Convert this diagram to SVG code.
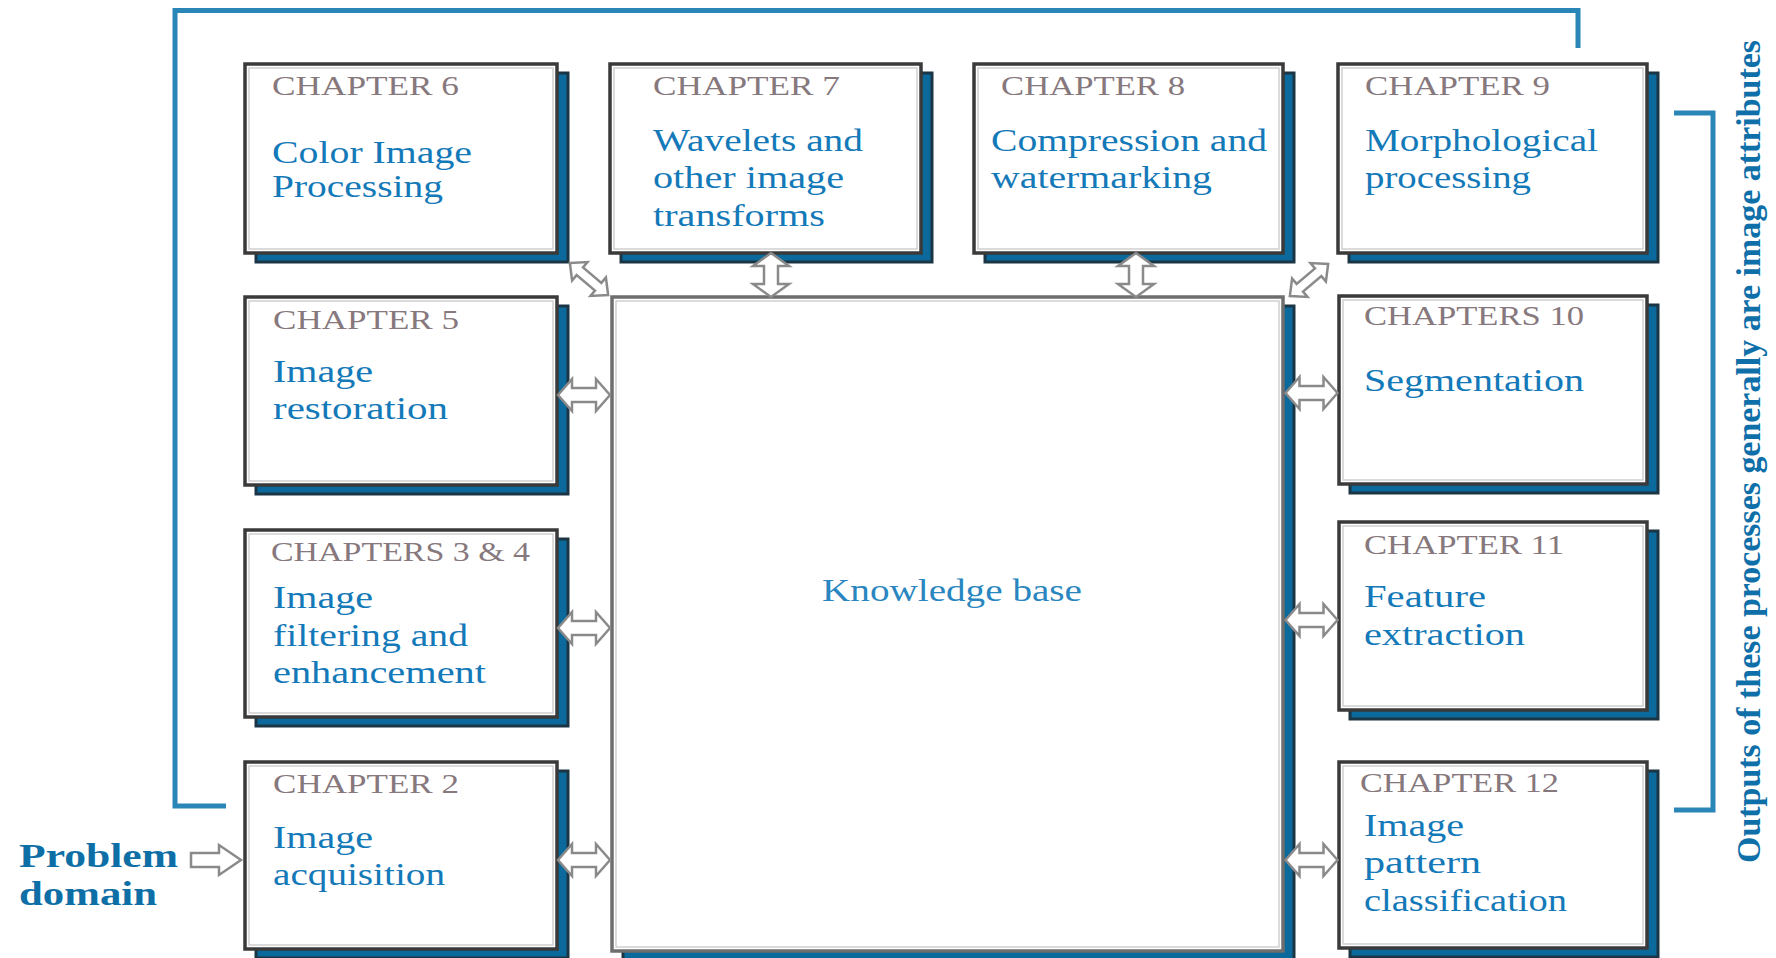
<svg xmlns="http://www.w3.org/2000/svg" width="1776" height="958" viewBox="0 0 1776 958">
<style>
.bg{fill:#ffffff}
.shadow{fill:#0b6a9b;stroke:#1b3545;stroke-width:3}
.box{fill:#ffffff;stroke:#3a3a3a;stroke-width:3.5}
.inner{fill:none;stroke:#cfcfcf;stroke-width:1.5}
.kb{fill:#ffffff;stroke:#6e6e6e;stroke-width:3.5}
.lbl{font-family:"Liberation Serif","Times New Roman",serif;font-size:27px;fill:#86787c}
.txt{font-family:"Liberation Serif","Times New Roman",serif;font-size:31px;fill:#1479b8}
.kbt{font-family:"Liberation Serif","Times New Roman",serif;font-size:31px;fill:#2a86c0}
.pd{font-family:"Liberation Serif","Times New Roman",serif;font-size:33px;font-weight:bold;fill:#0e6fa6}
.vt{font-family:"Liberation Serif","Times New Roman",serif;font-size:34px;font-weight:bold;fill:#0f6fa8}
.brk{fill:none;stroke:#2a86b6;stroke-width:5}
.arr{fill:#ffffff;stroke:#8a8a8a;stroke-width:2.5;stroke-linejoin:miter}
</style>
<defs>
<path id="dh" d="M-26,0 L-12,-16 L-12,-7 L12,-7 L12,-16 L26,0 L12,16 L12,7 L-12,7 L-12,16 Z"/>
<path id="dv" d="M0,-22 L18,-9 L7,-9 L7,9 L18,9 L0,22 L-18,9 L-7,9 L-7,-9 L-18,-9 Z"/>
<path id="dd" d="M-25,0 L-12,-12 L-12,-5 L12,-5 L12,-12 L25,0 L12,12 L12,5 L-12,5 L-12,12 Z"/>
</defs>
<rect class="bg" x="0" y="0" width="1776" height="958"/>

<g id="kb">
<rect class="shadow" x="623" y="306" width="671" height="654"/>
<rect class="kb" x="612" y="297" width="671" height="654"/>
<rect class="inner" x="616" y="301" width="663" height="646"/>
<text class="kbt" x="822" y="601" textLength="260" lengthAdjust="spacingAndGlyphs">Knowledge base</text>
</g>

<g id="ch6">
<rect class="shadow" x="256" y="73" width="312" height="189"/>
<rect class="box" x="245" y="64" width="312" height="189"/>
<rect class="inner" x="249" y="68" width="304" height="181"/>
<text class="lbl" x="272" y="95" textLength="187" lengthAdjust="spacingAndGlyphs">CHAPTER 6</text>
<text class="txt" x="272" y="163" textLength="200" lengthAdjust="spacingAndGlyphs">Color Image</text>
<text class="txt" x="272" y="197" textLength="171" lengthAdjust="spacingAndGlyphs">Processing</text>
</g>

<g id="ch7">
<rect class="shadow" x="621" y="73" width="311" height="189"/>
<rect class="box" x="610" y="64" width="311" height="189"/>
<rect class="inner" x="614" y="68" width="303" height="181"/>
<text class="lbl" x="653" y="95" textLength="187" lengthAdjust="spacingAndGlyphs">CHAPTER 7</text>
<text class="txt" x="653" y="151" textLength="210" lengthAdjust="spacingAndGlyphs">Wavelets and</text>
<text class="txt" x="653" y="188" textLength="191" lengthAdjust="spacingAndGlyphs">other image</text>
<text class="txt" x="653" y="226" textLength="172" lengthAdjust="spacingAndGlyphs">transforms</text>
</g>

<g id="ch8">
<rect class="shadow" x="985" y="73" width="309" height="189"/>
<rect class="box" x="974" y="64" width="309" height="189"/>
<rect class="inner" x="978" y="68" width="301" height="181"/>
<text class="lbl" x="1001" y="95" textLength="184" lengthAdjust="spacingAndGlyphs">CHAPTER 8</text>
<text class="txt" x="991" y="151" textLength="276" lengthAdjust="spacingAndGlyphs">Compression and</text>
<text class="txt" x="991" y="188" textLength="221" lengthAdjust="spacingAndGlyphs">watermarking</text>
</g>

<g id="ch9">
<rect class="shadow" x="1349" y="73" width="309" height="189"/>
<rect class="box" x="1338" y="64" width="309" height="189"/>
<rect class="inner" x="1342" y="68" width="301" height="181"/>
<text class="lbl" x="1365" y="95" textLength="185" lengthAdjust="spacingAndGlyphs">CHAPTER 9</text>
<text class="txt" x="1365" y="151" textLength="233" lengthAdjust="spacingAndGlyphs">Morphological</text>
<text class="txt" x="1365" y="188" textLength="166" lengthAdjust="spacingAndGlyphs">processing</text>
</g>

<g id="ch5">
<rect class="shadow" x="256" y="306" width="312" height="188"/>
<rect class="box" x="245" y="297" width="312" height="188"/>
<rect class="inner" x="249" y="301" width="304" height="180"/>
<text class="lbl" x="273" y="329" textLength="186" lengthAdjust="spacingAndGlyphs">CHAPTER 5</text>
<text class="txt" x="273" y="382" textLength="100" lengthAdjust="spacingAndGlyphs">Image</text>
<text class="txt" x="273" y="419" textLength="175" lengthAdjust="spacingAndGlyphs">restoration</text>
</g>

<g id="ch34">
<rect class="shadow" x="256" y="539" width="312" height="187"/>
<rect class="box" x="245" y="530" width="312" height="187"/>
<rect class="inner" x="249" y="534" width="304" height="179"/>
<text class="lbl" x="271" y="561" textLength="259" lengthAdjust="spacingAndGlyphs">CHAPTERS 3 &amp; 4</text>
<text class="txt" x="273" y="608" textLength="100" lengthAdjust="spacingAndGlyphs">Image</text>
<text class="txt" x="273" y="646" textLength="195" lengthAdjust="spacingAndGlyphs">filtering and</text>
<text class="txt" x="273" y="683" textLength="213" lengthAdjust="spacingAndGlyphs">enhancement</text>
</g>

<g id="ch2">
<rect class="shadow" x="256" y="771" width="312" height="187"/>
<rect class="box" x="245" y="762" width="312" height="187"/>
<rect class="inner" x="249" y="766" width="304" height="179"/>
<text class="lbl" x="273" y="793" textLength="186" lengthAdjust="spacingAndGlyphs">CHAPTER 2</text>
<text class="txt" x="273" y="848" textLength="100" lengthAdjust="spacingAndGlyphs">Image</text>
<text class="txt" x="273" y="885" textLength="172" lengthAdjust="spacingAndGlyphs">acquisition</text>
</g>

<g id="ch10">
<rect class="shadow" x="1350" y="305" width="308" height="188"/>
<rect class="box" x="1339" y="296" width="308" height="188"/>
<rect class="inner" x="1343" y="300" width="300" height="180"/>
<text class="lbl" x="1364" y="325" textLength="220" lengthAdjust="spacingAndGlyphs">CHAPTERS 10</text>
<text class="txt" x="1364" y="391" textLength="220" lengthAdjust="spacingAndGlyphs">Segmentation</text>
</g>

<g id="ch11">
<rect class="shadow" x="1350" y="531" width="308" height="188"/>
<rect class="box" x="1339" y="522" width="308" height="188"/>
<rect class="inner" x="1343" y="526" width="300" height="180"/>
<text class="lbl" x="1364" y="554" textLength="200" lengthAdjust="spacingAndGlyphs">CHAPTER 11</text>
<text class="txt" x="1364" y="607" textLength="122" lengthAdjust="spacingAndGlyphs">Feature</text>
<text class="txt" x="1364" y="645" textLength="161" lengthAdjust="spacingAndGlyphs">extraction</text>
</g>

<g id="ch12">
<rect class="shadow" x="1350" y="771" width="308" height="186"/>
<rect class="box" x="1339" y="762" width="308" height="186"/>
<rect class="inner" x="1343" y="766" width="300" height="178"/>
<text class="lbl" x="1360" y="792" textLength="199" lengthAdjust="spacingAndGlyphs">CHAPTER 12</text>
<text class="txt" x="1364" y="836" textLength="100" lengthAdjust="spacingAndGlyphs">Image</text>
<text class="txt" x="1364" y="873" textLength="117" lengthAdjust="spacingAndGlyphs">pattern</text>
<text class="txt" x="1364" y="911" textLength="203" lengthAdjust="spacingAndGlyphs">classification</text>
</g>

<g id="problem-domain">
<text class="pd" x="19" y="867" textLength="159" lengthAdjust="spacingAndGlyphs">Problem</text>
<text class="pd" x="19" y="905" textLength="138" lengthAdjust="spacingAndGlyphs">domain</text>
</g>

<g id="outputs-note">
<text class="vt" transform="translate(1760,863) rotate(-90)" x="0" y="0" textLength="823" lengthAdjust="spacingAndGlyphs">Outputs of these processes generally are image attributes</text>
</g>

<g id="connectors">
<polyline class="brk" points="226,806 175,806 175,10.5 1578,10.5 1578,48"/>
<polyline class="brk" points="1674,113 1713,113 1713,810 1674,810"/>
<path class="arr" d="M191,853 L219,853 L219,845 L241,860 L219,875 L219,867 L191,867 Z"/>
<use href="#dh" class="arr" transform="translate(584,395)"/>
<use href="#dh" class="arr" transform="translate(584,628)"/>
<use href="#dh" class="arr" transform="translate(584,860)"/>
<use href="#dh" class="arr" transform="translate(1311.5,393)"/>
<use href="#dh" class="arr" transform="translate(1311.5,620)"/>
<use href="#dh" class="arr" transform="translate(1311.5,860)"/>
<use href="#dv" class="arr" transform="translate(771,275)"/>
<use href="#dv" class="arr" transform="translate(1136,275)"/>
<use href="#dd" class="arr" transform="translate(589,279) rotate(40)"/>
<use href="#dd" class="arr" transform="translate(1309,280) rotate(-40)"/>
</g>
</svg>
